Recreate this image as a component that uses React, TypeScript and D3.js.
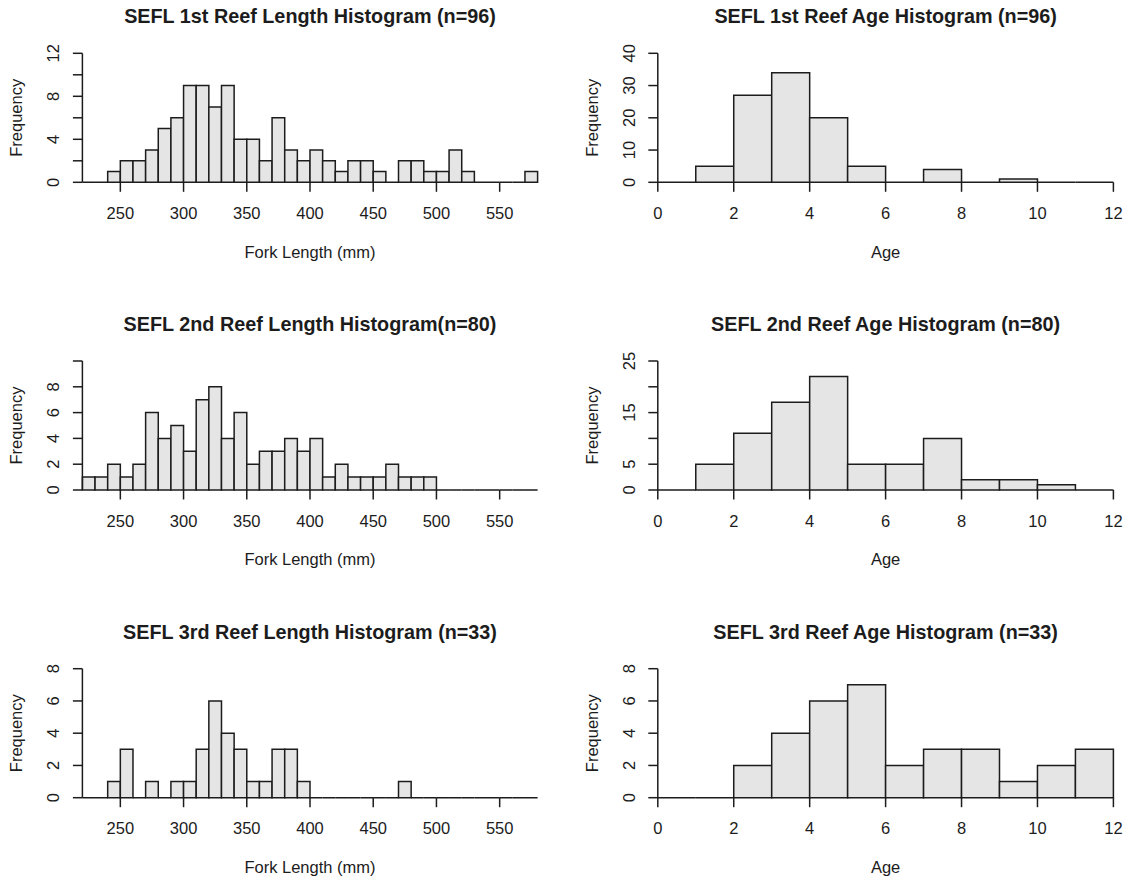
import React from "react";
import * as d3 from "d3";

// Fork length bins: 10 mm wide, starting at 220 mm
const lengthStart = 220;
const lengthBinWidth = 10;
const lengthCounts1 = [0, 0, 1, 2, 2, 3, 5, 6, 9, 9, 7, 9, 4, 4, 2, 6, 3, 2, 3, 2, 1, 2, 2, 1, 0, 2, 2, 1, 1, 3, 1, 0, 0, 0, 0, 1];
const lengthCounts2 = [1, 1, 2, 1, 2, 6, 4, 5, 3, 7, 8, 4, 6, 2, 3, 3, 4, 3, 4, 1, 2, 1, 1, 1, 2, 1, 1, 1, 0, 0, 0, 0, 0, 0, 0, 0];
const lengthCounts3 = [0, 0, 1, 3, 0, 1, 0, 1, 1, 3, 6, 4, 3, 1, 1, 3, 3, 1, 0, 0, 0, 0, 0, 0, 0, 1, 0, 0, 0, 0, 0, 0, 0, 0, 0, 0];
const lengthTicks = [250, 300, 350, 400, 450, 500, 550];

// Age bins: 1 year wide, 0 to 12
const ageStart = 0;
const ageBinWidth = 1;
const ageCounts1 = [0, 5, 27, 34, 20, 5, 0, 4, 0, 1, 0, 0];
const ageCounts2 = [0, 5, 11, 17, 22, 5, 5, 10, 2, 2, 1, 0];
const ageCounts3 = [0, 0, 2, 4, 6, 7, 2, 3, 3, 1, 2, 3];
const ageTicks = [0, 2, 4, 6, 8, 10, 12];

const titles = [
  ["SEFL 1st Reef Length Histogram (n=96)", "SEFL 1st Reef Age Histogram (n=96)"],
  ["SEFL 2nd Reef Length Histogram(n=80)", "SEFL 2nd Reef Age Histogram (n=80)"],
  ["SEFL 3rd Reef Length Histogram (n=33)", "SEFL 3rd Reef Age Histogram (n=33)"],
];

// y ticks drawn, and which of them carry a label
const lengthYTicks = [
  { ticks: [0, 2, 4, 6, 8, 10, 12], labels: [0, 4, 8, 12] },
  { ticks: [0, 2, 4, 6, 8, 10], labels: [0, 2, 4, 6, 8] },
  { ticks: [0, 2, 4, 6, 8], labels: [0, 2, 4, 6, 8] },
];
const ageYTicks = [
  { ticks: [0, 10, 20, 30, 40], labels: [0, 10, 20, 30, 40] },
  { ticks: [0, 5, 10, 15, 20, 25], labels: [0, 5, 15, 25] },
  { ticks: [0, 2, 4, 6, 8], labels: [0, 2, 4, 6, 8] },
];

const FONT = "'Liberation Sans', Arial, sans-serif";
const INK = "#1c1c1c";
const FILL = "#e5e5e5";
const LW = 1.5;

type PanelProps = {
  left: number;
  right: number;
  base: number;
  title: string;
  xLabel: string;
  start: number;
  binWidth: number;
  counts: number[];
  xTicks: number[];
  yTicks: number[];
  yLabels: number[];
};

function Histogram(p: PanelProps) {
  const plotH = 129;
  const end = p.start + p.binWidth * p.counts.length;
  const x = d3.scaleLinear().domain([p.start, end]).range([p.left, p.right]);
  const yMax = p.yTicks[p.yTicks.length - 1];
  const y = d3.scaleLinear().domain([0, yMax]).range([p.base, p.base - plotH]);
  const tick = 9.5;
  const cx = (p.left + p.right) / 2;

  // every bin is outlined, so empty bins leave a line along the baseline
  const bins = p.counts.map((c, i) => {
    const x0 = x(p.start + i * p.binWidth);
    const x1 = x(p.start + (i + 1) * p.binWidth);
    const path = d3.path();
    path.moveTo(x0, y(0));
    path.lineTo(x0, y(c));
    path.lineTo(x1, y(c));
    path.lineTo(x1, y(0));
    path.closePath();
    return <path key={i} d={path.toString()} fill={FILL} stroke={INK} strokeWidth={LW} />;
  });

  return (
    <g>
      <text x={cx} y={p.base - 166} dy="0.35em" textAnchor="middle" fontFamily={FONT} fontWeight="bold" fontSize={19.8} fill={INK}>
        {p.title}
      </text>
      {bins}
      {/* y axis */}
      <line x1={p.left} x2={p.left} y1={y(0)} y2={y(yMax)} stroke={INK} strokeWidth={LW} />
      {p.yTicks.map((t) => (
        <line key={"yt" + t} x1={p.left - tick} x2={p.left} y1={y(t)} y2={y(t)} stroke={INK} strokeWidth={LW} />
      ))}
      {p.yLabels.map((t) => (
        <text key={"yl" + t} transform={`translate(${p.left - 29},${y(t)}) rotate(-90)`} dy="0.35em" textAnchor="middle" fontFamily={FONT} fontSize={16.5} fill={INK}>
          {t}
        </text>
      ))}
      <text transform={`translate(${p.left - 66},${p.base - plotH / 2}) rotate(-90)`} dy="0.35em" textAnchor="middle" fontFamily={FONT} fontSize={16.5} fill={INK}>
        Frequency
      </text>
      {/* x ticks hang from the baseline */}
      {p.xTicks.map((t) => (
        <g key={"xt" + t}>
          <line x1={x(t)} x2={x(t)} y1={p.base} y2={p.base + tick} stroke={INK} strokeWidth={LW} />
          <text x={x(t)} y={p.base + 31} dy="0.35em" textAnchor="middle" fontFamily={FONT} fontSize={16.5} fill={INK}>
            {t}
          </text>
        </g>
      ))}
      <text x={cx} y={p.base + 69.5} dy="0.35em" textAnchor="middle" fontFamily={FONT} fontSize={16.5} fill={INK}>
        {p.xLabel}
      </text>
    </g>
  );
}

export default function App() {
  const bases = [182.3, 490, 797.7];
  const lengthCounts = [lengthCounts1, lengthCounts2, lengthCounts3];
  const ageCounts = [ageCounts1, ageCounts2, ageCounts3];
  return (
    <svg width={1131} height={882} style={{ position: "absolute", left: 0, top: 0, background: "#fff" }}>
      <rect width={1131} height={882} fill="#fff" />
      {bases.map((b, r) => (
        <g key={r}>
          <Histogram
            left={82.4}
            right={537.6}
            base={b}
            title={titles[r][0]}
            xLabel="Fork Length (mm)"
            start={lengthStart}
            binWidth={lengthBinWidth}
            counts={lengthCounts[r]}
            xTicks={lengthTicks}
            yTicks={lengthYTicks[r].ticks}
            yLabels={lengthYTicks[r].labels}
          />
          <Histogram
            left={657.8}
            right={1113.4}
            base={b}
            title={titles[r][1]}
            xLabel="Age"
            start={ageStart}
            binWidth={ageBinWidth}
            counts={ageCounts[r]}
            xTicks={ageTicks}
            yTicks={ageYTicks[r].ticks}
            yLabels={ageYTicks[r].labels}
          />
        </g>
      ))}
    </svg>
  );
}
